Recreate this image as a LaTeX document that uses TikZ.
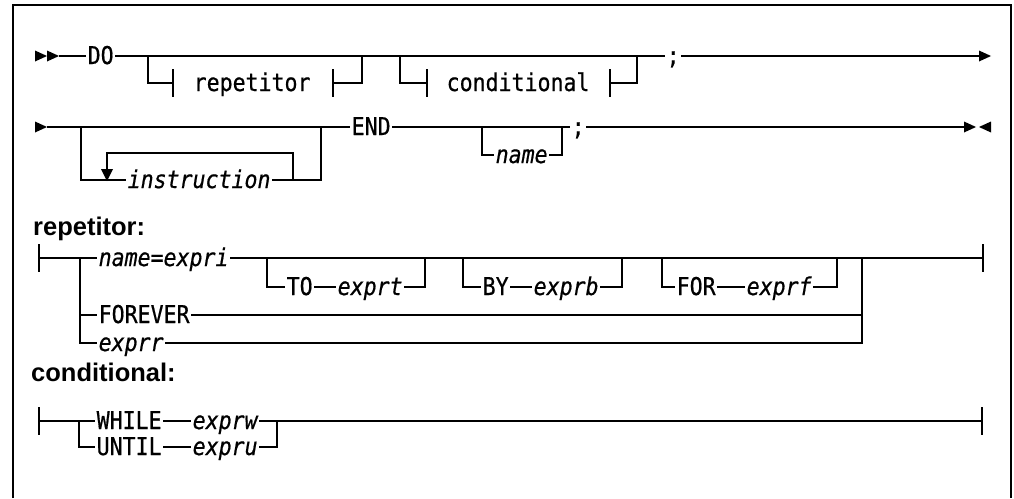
\documentclass[tikz,border=0pt]{standalone}
\usepackage{fontspec}
\newfontfamily\railmono{DejaVu Sans Mono}[FakeStretch=0.88, FakeBold=0.6]
\newfontfamily\railhead{Liberation Sans}
\newcommand\railsize{\fontsize{24.5pt}{27pt}\selectfont}
\newcommand\headsize{\fontsize{25.5pt}{28pt}\selectfont}

\tikzset{
  rail/.style={line width=1.2pt},
  kw/.style={font=\railmono\railsize, inner xsep=1.5pt, inner ysep=0pt,
    text height=17pt, text depth=1pt, anchor=west},
  var/.style={kw, font=\railmono\itshape\railsize},
  head/.style={font=\railhead\bfseries\headsize, inner sep=0pt, anchor=base west}
}

\begin{document}
\begin{tikzpicture}[x=1pt, y=-1pt]
  \useasboundingbox (0,0) rectangle (1014,498);

  % frame, open at the bottom
  \draw[line width=1.6pt] (13,498) -- (13,5) -- (1011,5) -- (1011,498);

  % DO statement, first line
  \fill (35,50.5) -- (47,56) -- (35,61.5) -- cycle;
  \fill (47,50.5) -- (59,56) -- (47,61.5) -- cycle;
  \coordinate (go1) at (59,56);
  \coordinate (out1) at (979,56);
  \node[kw] (do) at (86,56) {DO};
  \node[kw] (semi1) at (665,56) {;};
  \draw[rail] (go1) -- (do.west);
  \draw[rail] (do.east) -- (semi1.west);
  \draw[rail] (semi1.east) -- (out1);
  \fill (979,50.5) -- (991,56) -- (979,61.5) -- cycle;

  % the two optional fragments
  \node[kw] (repref) at (192,83) {repetitor};
  \draw[rail] (148,56) |- (173,83);
  \draw[rail] (173,69) -- (173,97);
  \draw[rail] (333,69) -- (333,97);
  \draw[rail] (333,83) -| (362,56);
  \node[kw] (condref) at (445,83) {conditional};
  \draw[rail] (400,56) |- (427,83);
  \draw[rail] (427,69) -- (427,97);
  \draw[rail] (610,69) -- (610,97);
  \draw[rail] (610,83) -| (637,56);

  % DO statement, second line
  \fill (35,121.5) -- (47,127) -- (35,132.5) -- cycle;
  \coordinate (go2) at (47,127);
  \coordinate (out2) at (964,127);
  \node[kw] (end) at (350,127) {END};
  \node[kw] (semi2) at (570,127) {;};
  \draw[rail] (go2) -- (end.west);
  \draw[rail] (end.east) -- (semi2.west);
  \draw[rail] (semi2.east) -- (out2);
  \fill (964,121.5) -- (976,127) -- (964,132.5) -- cycle;
  \fill (991,121.5) -- (979,127) -- (991,132.5) -- cycle;

  % repeated instruction
  \node[var] (instr) at (126,180) {instruction};
  \draw[rail] (81,127) |- (instr.west);
  \draw[rail] (instr.east) -| (321,127);
  \draw[rail] (293,180) |- (107,153) -- (107,170);
  \fill (101,169) -- (113,169) -- (107,181) -- cycle;

  % optional name
  \node[var] (nm) at (494,155) {name};
  \draw[rail] (482,127) |- (nm.west);
  \draw[rail] (nm.east) -| (562,127);

  % repetitor
  \node[head] (rephead) at (33,235) {repetitor:};
  \draw[rail] (39,244) -- (39,272);
  \node[var] (nexp) at (97,258) {name=expri};
  \draw[rail] (39,258) -- (nexp.west);
  \draw[rail] (nexp.east) -- (983,258);
  \draw[rail] (983,244) -- (983,272);
  \node[kw] (to) at (285,287) {TO};
  \node[var] (exprt) at (336,287) {exprt};
  \draw[rail] (267,258) |- (to.west);
  \draw[rail] (to.east) -- (exprt.west);
  \draw[rail] (exprt.east) -| (425,258);
  \node[kw] (by) at (481,287) {BY};
  \node[var] (exprb) at (532,287) {exprb};
  \draw[rail] (463,258) |- (by.west);
  \draw[rail] (by.east) -- (exprb.west);
  \draw[rail] (exprb.east) -| (622,258);
  \node[kw] (for) at (675,287) {FOR};
  \node[var] (exprf) at (745,287) {exprf};
  \draw[rail] (662,258) |- (for.west);
  \draw[rail] (for.east) -- (exprf.west);
  \draw[rail] (exprf.east) -| (837,258);
  \node[kw] (forever) at (97,315) {FOREVER};
  \node[var] (exprr) at (97,343) {exprr};
  \draw[rail] (80,258) |- (forever.west);
  \draw[rail] (80,315) |- (exprr.west);
  \draw[rail] (forever.east) -- (862,315);
  \draw[rail] (exprr.east) -| (862,258);

  % conditional
  \node[head] (condhead) at (31,381) {conditional:};
  \draw[rail] (39,407) -- (39,435);
  \node[kw] (while) at (95,421) {WHILE};
  \node[var] (exprw) at (191,421) {exprw};
  \draw[rail] (39,421) -- (while.west);
  \draw[rail] (while.east) -- (exprw.west);
  \draw[rail] (exprw.east) -- (982,421);
  \draw[rail] (982,407) -- (982,435);
  \node[kw] (until) at (95,447) {UNTIL};
  \node[var] (expru) at (191,447) {expru};
  \draw[rail] (79,421) |- (until.west);
  \draw[rail] (until.east) -- (expru.west);
  \draw[rail] (expru.east) -| (277,421);
\end{tikzpicture}
\end{document}
